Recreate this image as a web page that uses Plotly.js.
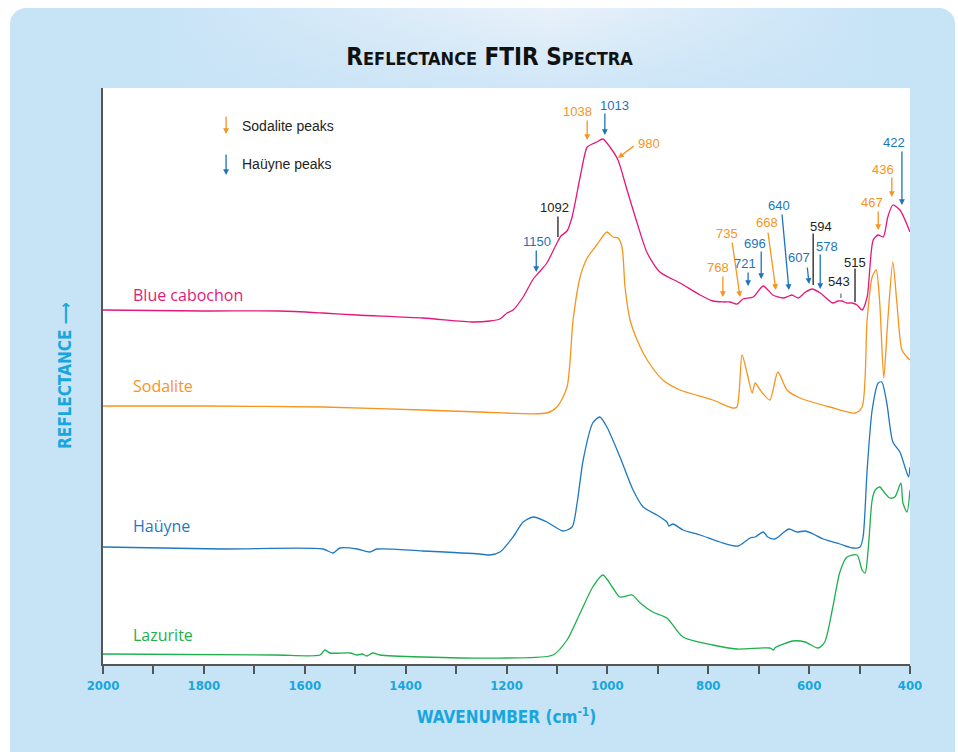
<!DOCTYPE html>
<html><head><meta charset="utf-8">
<script src="https://cdn.plot.ly/plotly-3.0.1.min.js"></script>
<style>
html,body{margin:0;padding:0;background:#fff;width:958px;height:752px;overflow:hidden;}
#panel{position:absolute;left:10px;top:8px;width:945px;height:760px;border-radius:16px;
 background:linear-gradient(to bottom, rgba(199,227,246,0) 0px, #c7e3f6 110px),
            linear-gradient(to right, #c7e3f6 15%, #e9f1fa 57%, #c7e3f6 92%);}
#chart{position:absolute;left:0;top:0;width:958px;height:752px;}
</style></head>
<body><div id="panel"></div><div id="chart"></div>
<script>
// ---- data (wavenumber cm-1, relative reflectance with vertical offsets) ----
const blueCabWn = [2000,1800,1650,1564,1496,1366,1266,1233,1213,1199,1187,1167,1147,1135,1120,1100,1092,1080,1070,1054,1040,1030,1021,1009,995,979,961,941,921,896,856,816,791,768,757,743,731,711,691,672,652,640,634,622,607,594,578,553,543,535,525,515,505,495,485,473,463,453,444,434,420,400];
const blueCabR  = [354,353,353,351,349,346,342,343,345,351,354,367,385,392,401,421,428,433,447,487,517,520,522,525,517,504,474,441,411,392,381,369,363,362,362,360,365,367,378,369,366,368,369,366,372,375,371,361,363,363,361,361,359,354,367,424,429,427,447,459,454,432];

const sodWn = [2000,1800,1564,1366,1253,1120,1100,1080,1068,1054,1040,1021,1001,989,979,971,965,955,941,921,890,856,791,751,743,733,723,713,707,697,678,662,644,618,559,509,495,485,475,467,460,452,444,434,426,416,406,400];
const sodR  = [258,258,257,254,252,251,257,277,344,387,406,419,432,427,426,417,377,344,324,304,284,274,264,256,257,309,291,271,281,274,264,292,274,266,257,251,257,344,387,394,361,286,344,402,361,314,307,304];

const hauWn = [2000,1764,1564,1544,1530,1496,1471,1457,1366,1253,1233,1213,1187,1167,1147,1120,1088,1070,1060,1048,1029,1015,1001,975,949,929,902,882,878,870,850,816,777,741,717,707,691,682,668,652,640,624,608,592,572,539,513,499,493,485,475,463,456,446,434,420,410,403,400];
const hauR  = [117,115,115,111,116,115,112,115,113,110,109,112,127,142,147,142,133,137,161,204,241,247,237,207,174,157,149,142,138,140,134,129,122,118,126,127,132,127,125,131,135,132,133,130,125,120,116,117,127,194,254,281,282,261,222,212,197,187,197];

const lazWn = [2000,1660,1570,1560,1550,1510,1496,1486,1477,1465,1451,1366,1199,1108,1080,1054,1029,1009,989,975,951,935,910,882,850,791,743,678,670,668,632,608,582,569,553,539,525,505,495,489,483,475,469,460,450,440,430,418,414,406,400];
const lazR  = [10,9,9,14,11,11,9,10,8,11,9,7,6,9,24,51,77,89,76,67,69,61,52,46,27,19,15,16,14,16,23,22,16,22,57,92,107,109,94,91,114,164,174,177,171,166,167,181,161,152,174];

const seriesNames = ["Blue cabochon","Sodalite","Haüyne","Lazurite"];
const seriesColors = ["#e5177b","#f7941d","#1f78c1","#1db04d"];
const seriesLabelR = [369,278,138,29];

const tickVals = [2000,1900,1800,1700,1600,1500,1400,1300,1200,1100,1000,900,800,700,600,500,400];
const tickText = ["2000","","1800","","1600","","1400","","1200","","1000","","800","","600","","400"];

// peak labels: text, kind (s=sodalite, h=hauyne, o=other), text pos, arrow tail, arrow tip
const peakText  = ["1038","1013","980","1092","1150","768","735","721","696","668","640","607","594","578","543","515","467","436","422"];
const peakKind  = ["s","h","s","o","h","s","s","h","h","s","h","h","o","h","o","o","s","s","h"];
const peakTextX = [1060,985,918,1104,1140,781,763,727,707,683,660,620,576,565,541,509,475,453,432];
const peakTextY = [553,559,521,457,423,397,431,401,421,442,459,407,438,418,383,402,462,495,522];
const peakTailX = [1040,1005,945,1098,1141,771,753,721,695,682,654,604,592,578,537,509,463,436,416];
const peakTailY = [545,552,519,449,415,389,423,393,414,433,451,398,432,411,372,397,454,488,514];
const peakTipX  = [1040,1005,979,1098,1141,771,737,721,695,666,640,600,592,578,537,509,463,436,416];
const peakTipY  = [524,529,506,427,392,367,367,378,385,374,374,380,379,375,366,362,434,467,459];

const kindColor = {s:"#f7941d", h:"#1b75bb", o:"#231f20"};

const traces = [
  {x:blueCabWn, y:blueCabR},
  {x:sodWn, y:sodR},
  {x:hauWn, y:hauR},
  {x:lazWn, y:lazR}
].map((t,i)=>({x:t.x, y:t.y, type:"scatter", mode:"lines", name:seriesNames[i],
  line:{color:seriesColors[i], width:1.3, shape:"spline", smoothing:0.7}, hoverinfo:"skip"}));

const ann = [];
seriesNames.forEach((n,i)=>ann.push({x:1944, y:seriesLabelR[i], xref:"x", yref:"y", text:n,
  showarrow:false, xanchor:"left", yanchor:"middle",
  font:{family:"Open Sans, Lato, sans-serif", size:16, color:seriesColors[i]}}));

const lblFont = c=>({family:"Liberation Sans, Arial, sans-serif", size:13, color:c});
for (let i=0;i<peakText.length;i++){
  const c = kindColor[peakKind[i]];
  ann.push({x:peakTextX[i], y:peakTextY[i], xref:"x", yref:"y", text:peakText[i], showarrow:false,
    xanchor:"center", yanchor:"middle", font:lblFont(c)});
  ann.push({x:peakTipX[i], y:peakTipY[i], xref:"x", yref:"y", ax:peakTailX[i], ay:peakTailY[i],
    axref:"x", ayref:"y", text:"", showarrow:true,
    arrowhead: peakKind[i]==="o"?0:2, arrowsize:0.9, arrowwidth:1.3,
    arrowcolor: peakKind[i]==="o" ? (peakText[i]==="543" ? "#777" : "#231f20") : c});
}
// legend for peak arrows
ann.push({x:1756, y:530, ax:1756, ay:549, xref:"x", yref:"y", axref:"x", ayref:"y", text:"", showarrow:true,
  arrowhead:2, arrowsize:0.9, arrowwidth:1.3, arrowcolor:"#f7941d"});
ann.push({x:1756, y:489, ax:1756, ay:511, xref:"x", yref:"y", axref:"x", ayref:"y", text:"", showarrow:true,
  arrowhead:2, arrowsize:0.9, arrowwidth:1.3, arrowcolor:"#1b75bb"});
ann.push({x:1728, y:538, xref:"x", yref:"y", text:"Sodalite peaks", showarrow:false, xanchor:"left", yanchor:"middle",
  font:{family:"Liberation Sans, Arial, sans-serif", size:14, color:"#231f20"}});
ann.push({x:1728, y:500, xref:"x", yref:"y", text:"Haüyne peaks", showarrow:false, xanchor:"left", yanchor:"middle",
  font:{family:"Liberation Sans, Arial, sans-serif", size:14, color:"#231f20"}});
// y axis title
ann.push({x:-0.047, y:0.5, xref:"paper", yref:"paper", text:"<b>REFLECTANCE ⟶</b>", textangle:-90, showarrow:false,
  xanchor:"center", yanchor:"middle",
  font:{family:"Liberation Sans Narrow, DejaVu Sans Condensed, sans-serif", size:17, color:"#17a6dd"}});

const cond = "Liberation Sans Narrow, DejaVu Sans Condensed, sans-serif";
const layout = {
  width:958, height:752,
  paper_bgcolor:"rgba(0,0,0,0)", plot_bgcolor:"#ffffff",
  margin:{l:103, r:48, t:88, b:88},
  showlegend:false,
  title:{text:"<b>R<span style='font-size:18px'>EFLECTANCE</span> FTIR S<span style='font-size:18px'>PECTRA</span></b>",
    x:0.511, xanchor:"center", y:0.925, yanchor:"middle", yref:"container",
    font:{family:cond, size:24, color:"#111"}},
  xaxis:{range:[2000,400], tickvals:tickVals, ticktext:tickText, ticks:"outside", ticklen:8, tickwidth:2,
    tickcolor:"#555", showline:true, linecolor:"#555", linewidth:2, showgrid:false, zeroline:false,
    tickfont:{family:cond, size:13, color:"#17a6dd", weight:"bold"},
    title:{text:"<b>WAVENUMBER (cm<sup>-1</sup>)</b>", standoff:20, font:{family:cond, size:17, color:"#17a6dd"}}},
  yaxis:{range:[0,576], showticklabels:false, ticks:"", showline:true, linecolor:"#555", linewidth:2,
    showgrid:false, zeroline:false},
  annotations:ann
};
Plotly.newPlot("chart", traces, layout, {displayModeBar:false, staticPlot:true});
</script></body></html>
